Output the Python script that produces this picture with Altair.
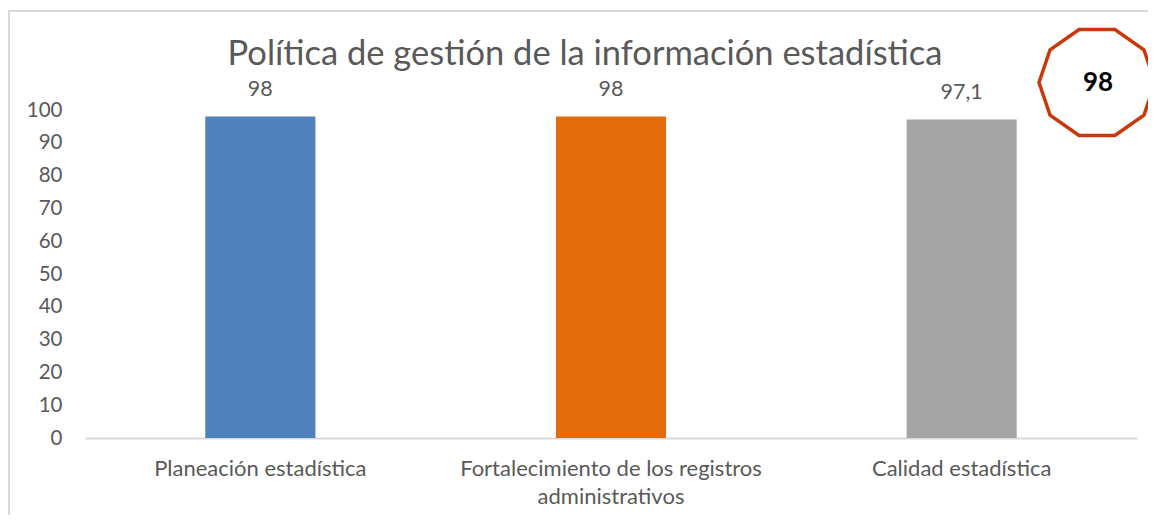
import math
import altair as alt
import pandas as pd

# ---- data ----
categories = ["Planeación estadística",
              "Fortalecimiento de los registros administrativos",
              "Calidad estadística"]
values = [98, 98, 97.1]
bar_colors = ["#4F81BD", "#E46C0A", "#A5A5A5"]
overall_score = 98
chart_title = "Política de gestión de la información estadística"
y_ticks = [0, 10, 20, 30, 40, 50, 60, 70, 80, 90, 100]

df = pd.DataFrame({"cat": categories, "value": values, "color": bar_colors})

FONT = "Lato"
TXT = "#595959"
W, H = 1052, 328

# decagon symbol path (unit box)
pts = []
for k in range(10):
    a = math.radians(36 * k)
    pts.append((math.cos(a), 0.96 * math.sin(a)))
deca = "M" + " L".join(f"{x:.4f},{y:.4f}" for x, y in pts) + " Z"

x_enc = alt.X("cat:N", sort=categories,
              scale=alt.Scale(paddingInner=0.686, paddingOuter=0.343),
              axis=alt.Axis(title=None, labelAngle=0, labelFont=FONT, labelFontSize=22,
                            labelColor=TXT, ticks=False, domainColor="#D9D9D9",
                            domainWidth=2, labelPadding=20, labelLineHeight=28,
                            labelBaseline="top", labelLimit=0, labelOverlap=False,
                            labelExpr="datum.label == 'Fortalecimiento de los registros administrativos' ? ['Fortalecimiento de los registros', 'administrativos'] : datum.label"))
y_enc = alt.Y("value:Q", scale=alt.Scale(domain=[0, 100], nice=False),
              axis=alt.Axis(title=None, values=y_ticks, tickCount=11, grid=False, domain=False,
                            ticks=False, labelOverlap=False,
                            labelFont=FONT, labelFontSize=20.5, labelColor=TXT, labelPadding=23))

base = alt.Chart(df)

bars = base.mark_bar().encode(
    x=x_enc, y=y_enc,
    color=alt.Color("color:N", scale=None),
)

labels = base.transform_calculate(
    lab="replace(toString(datum.value), '.', ',')"
).mark_text(font=FONT, fontSize=21.5, color=TXT, baseline="bottom", dy=-16).encode(
    x=x_enc, y=y_enc, text="lab:N")

one = alt.Data(values=[{"t": chart_title, "s": str(overall_score)}])

title = alt.Chart(one).mark_text(font=FONT, fontSize=34.5, color=TXT, baseline="alphabetic",
                                 align="center").encode(
    x=alt.value(500), y=alt.value(-45), text="t:N")

badge = alt.Chart(one).mark_point(shape=deca, size=13456, filled=False, fill="white",
                                  fillOpacity=1, stroke="#C9380A", strokeWidth=3.5,
                                  opacity=1).encode(
    x=alt.value(1012), y=alt.value(-27.5))

badge_txt = alt.Chart(one).mark_text(font=FONT, fontSize=26, fontWeight="bold", color="black",
                                     baseline="middle", align="center").encode(
    x=alt.value(1013), y=alt.value(-27), text="s:N")

frame_left = alt.Chart(one).mark_rule(color="#D9D9D9", strokeWidth=2).encode(
    x=alt.value(-76), y=alt.value(-99), y2=alt.value(500))
frame_top = alt.Chart(one).mark_rule(color="#D9D9D9", strokeWidth=2).encode(
    x=alt.value(-77), x2=alt.value(1100), y=alt.value(-99))

chart = alt.layer(frame_left, frame_top, bars, labels, title, badge, badge_txt).properties(
    width=W, height=H,
    autosize=alt.AutoSizeParams(type="none"),
    padding={"left": 77, "top": 102, "right": 11, "bottom": 77},
).configure_view(stroke=None)

chart.save("out.html", embed_options={"renderer": "svg", "actions": False})
